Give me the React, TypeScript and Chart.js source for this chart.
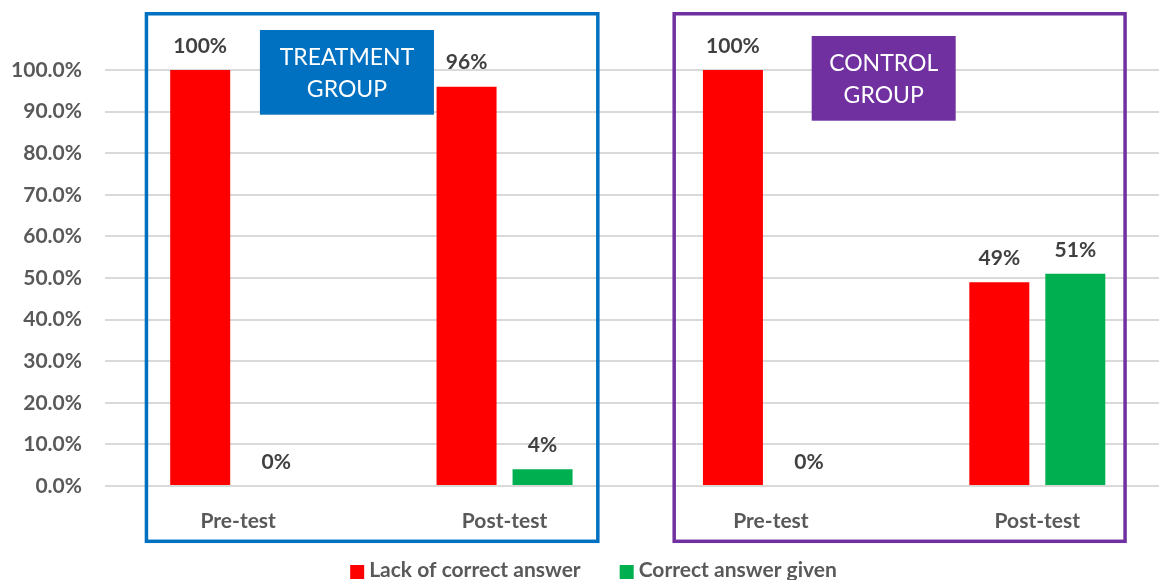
import { useEffect, useRef } from "react";
import { Chart, registerables } from "chart.js";

Chart.register(...registerables);
Chart.defaults.font.family = "Lato, 'Open Sans', sans-serif";

// ---- data ----
const categories = ["Pre-test", "Post-test", "Pre-test", "Post-test"];
const lackOfCorrectAnswer = [100, 96, 100, 49];
const correctAnswerGiven = [0, 4, 0, 51];
const seriesNames = ["Lack of correct answer", "Correct answer given"];
const groupTitles = [
  ["TREATMENT", "GROUP"],
  ["CONTROL", "GROUP"],
];
const groupCategoryRange = [
  [0, 1],
  [2, 3],
];

// ---- styling ----
const FONT_FAMILY = "Lato, 'Open Sans', sans-serif";
const SERIES_COLORS = ["#FF0000", "#00B050"];
const GROUP_COLORS = ["#0070C0", "#7030A0"];
const AXIS_TEXT = "#595959";
const VALUE_TEXT = "#404040";
const BOLD_FONT = { size: 21, weight: "bold" as const, lineHeight: 1 };

// Frame and title-box offsets (px) relative to the first / last category centre of each group
const GROUP_LAYOUT = [
  { frameLeft: -91.75, frameRight: 93.25, boxDx: 21.75, boxTop: -40, boxW: 174, boxH: 84.7 },
  { frameLeft: -96.75, frameRight: 87.75, boxDx: 40.75, boxTop: -34, boxW: 144, boxH: 84.7 },
];

const groupFramePlugin = {
  id: "groupFrames",
  afterDatasetsDraw(chart: any) {
    const { ctx, chartArea } = chart;
    const x = chart.scales.x;
    GROUP_LAYOUT.forEach((g, i) => {
      const [first, last] = groupCategoryRange[i];
      const left = x.getPixelForValue(first) + g.frameLeft;
      const right = x.getPixelForValue(last) + g.frameRight;
      const top = chartArea.top - 56.25;
      const bottom = chartArea.bottom + 55.3;
      ctx.save();
      ctx.strokeStyle = GROUP_COLORS[i];
      ctx.lineWidth = 3.5;
      ctx.strokeRect(left, top, right - left, bottom - top);

      const bx = x.getPixelForValue(first) + g.boxDx;
      const by = chartArea.top + g.boxTop;
      ctx.fillStyle = GROUP_COLORS[i];
      ctx.fillRect(bx, by, g.boxW, g.boxH);
      ctx.fillStyle = "#FFFFFF";
      ctx.font = `23px ${FONT_FAMILY}`;
      ctx.textAlign = "center";
      ctx.textBaseline = "middle";
      groupTitles[i].forEach((line, li) => {
        ctx.fillText(line, bx + g.boxW / 2, by + 27.5 + li * 32.5);
      });
      ctx.restore();
    });
  },
};

const valueLabelPlugin = {
  id: "valueLabels",
  afterDatasetsDraw(chart: any) {
    const { ctx } = chart;
    ctx.save();
    ctx.font = `bold 21px ${FONT_FAMILY}`;
    ctx.fillStyle = VALUE_TEXT;
    ctx.textAlign = "center";
    ctx.textBaseline = "middle";
    chart.data.datasets.forEach((ds: any, di: number) => {
      const meta = chart.getDatasetMeta(di);
      meta.data.forEach((bar: any, i: number) => {
        const v = Number(ds.data[i]);
        ctx.fillText(`${Math.round(v)}%`, bar.x, bar.y - 24);
      });
    });
    ctx.restore();
  },
};

// Legend row under the x axis, centred on the canvas
const bottomLegendPlugin = {
  id: "bottomLegend",
  afterDraw(chart: any) {
    const { ctx, width, chartArea } = chart;
    const BOX = 14;
    const TEXT_GAP = 5;
    const ITEM_GAP = 39;
    ctx.save();
    ctx.font = `bold 21px ${FONT_FAMILY}`;
    const items = chart.data.datasets.map((ds: any) => ({
      text: String(ds.label),
      color: ds.backgroundColor,
      w: ctx.measureText(String(ds.label)).width,
    }));
    const total =
      items.reduce((s: number, it: any) => s + BOX + TEXT_GAP + it.w, 0) + ITEM_GAP * (items.length - 1);
    let x = width / 2 - total / 2;
    const boxTop = chartArea.bottom + 79;
    const textMid = chartArea.bottom + 84.5;
    ctx.textAlign = "left";
    ctx.textBaseline = "middle";
    items.forEach((it: any) => {
      ctx.fillStyle = it.color;
      ctx.fillRect(x, boxTop, BOX, BOX);
      ctx.fillStyle = AXIS_TEXT;
      ctx.fillText(it.text, x + BOX + TEXT_GAP, textMid);
      x += BOX + TEXT_GAP + it.w + ITEM_GAP;
    });
    ctx.restore();
  },
};

export default function App() {
  const canvasRef = useRef<HTMLCanvasElement | null>(null);

  useEffect(() => {
    if (!canvasRef.current) return;
    const chart = new Chart(canvasRef.current, {
      type: "bar",
      data: {
        labels: categories,
        datasets: [
          {
            label: seriesNames[0],
            data: lackOfCorrectAnswer,
            backgroundColor: SERIES_COLORS[0],
            categoryPercentage: 0.5706,
            barPercentage: 0.7895,
          },
          {
            label: seriesNames[1],
            data: correctAnswerGiven,
            backgroundColor: SERIES_COLORS[1],
            categoryPercentage: 0.5706,
            barPercentage: 0.7895,
          },
        ],
      },
      options: {
        animation: false,
        responsive: true,
        maintainAspectRatio: false,
        layout: { padding: { top: 70, left: 0, right: 16.5, bottom: 45 } },
        plugins: {
          legend: { display: false },
          tooltip: { enabled: false },
        },
        scales: {
          x: {
            grid: { display: false },
            border: { display: false },
            ticks: { color: AXIS_TEXT, font: BOLD_FONT, padding: 17, maxRotation: 0, autoSkip: false },
            afterFit: (s: any) => {
              s.height = 60;
            },
          },
          y: {
            min: 0,
            max: 100,
            ticks: {
              stepSize: 10,
              color: AXIS_TEXT,
              font: BOLD_FONT,
              padding: 23,
              callback: (v: any) => `${Number(v).toFixed(1)}%`,
            },
            grid: { color: "#D9D9D9", lineWidth: 2, drawTicks: false },
            border: { display: false },
            afterFit: (s: any) => {
              s.width = 105;
            },
          },
        },
      },
      plugins: [groupFramePlugin, valueLabelPlugin, bottomLegendPlugin],
    });
    return () => chart.destroy();
  }, []);

  return (
    <div
      style={{
        position: "fixed",
        left: 0,
        top: 0,
        width: 1159,
        height: 580,
        overflow: "hidden",
        background: "#FFFFFF",
      }}
    >
      <div style={{ position: "absolute", left: 0, top: 0, width: 1187, height: 591 }}>
        <canvas ref={canvasRef} />
      </div>
    </div>
  );
}
